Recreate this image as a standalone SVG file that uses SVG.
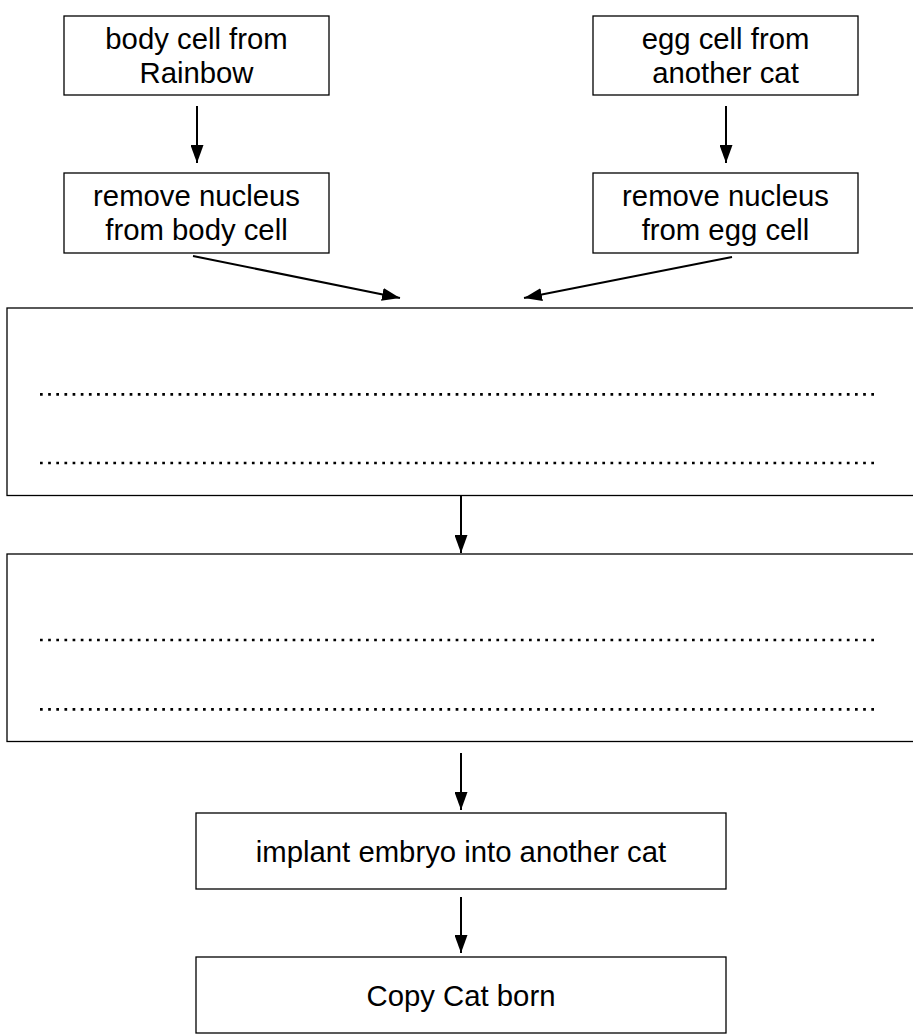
<svg xmlns="http://www.w3.org/2000/svg" width="913" height="1034" viewBox="0 0 913 1034">
<style>
.box{fill:#fff;stroke:#000;stroke-width:1.3}
.t{font-family:"Liberation Sans",Arial,sans-serif;font-size:29.3px;fill:#000;text-anchor:middle}
.dots{stroke:#000;stroke-width:2.7;stroke-dasharray:2.7 5.45;fill:none}
.c{stroke:#000;stroke-width:2;fill:none;marker-end:url(#ah)}
</style>
<defs>
<marker id="ah" markerUnits="userSpaceOnUse" markerWidth="18" markerHeight="13" refX="18" refY="6.5" orient="auto">
<path d="M0,0 L18,6.5 L0,13 z" fill="#000"/>
</marker>
</defs>
<rect width="913" height="1034" fill="#fff"/>
<g id="body-cell">
<rect class="box" x="64" y="16" width="265" height="79"/>
<text class="t" x="196.5" y="48.5">body cell from</text>
<text class="t" x="196.5" y="82.5">Rainbow</text>
</g>
<g id="egg-cell">
<rect class="box" x="593" y="16" width="265" height="79"/>
<text class="t" x="725.5" y="48.5">egg cell from</text>
<text class="t" x="725.5" y="82.5">another cat</text>
</g>
<g id="remove-body">
<rect class="box" x="64" y="173" width="265" height="80"/>
<text class="t" x="196.5" y="206">remove nucleus</text>
<text class="t" x="196.5" y="240">from body cell</text>
</g>
<g id="remove-egg">
<rect class="box" x="593" y="173" width="265" height="80"/>
<text class="t" x="725.5" y="206">remove nucleus</text>
<text class="t" x="725.5" y="240">from egg cell</text>
</g>
<g id="blank-1">
<rect class="box" x="7" y="308" width="930" height="187.5"/>
<line class="dots" x1="40" y1="394.3" x2="875" y2="394.3"/>
<line class="dots" x1="40" y1="463" x2="875" y2="463"/>
</g>
<g id="blank-2">
<rect class="box" x="7" y="554" width="930" height="187.5"/>
<line class="dots" x1="40" y1="640" x2="875" y2="640"/>
<line class="dots" x1="40" y1="709.3" x2="875" y2="709.3"/>
</g>
<g id="implant">
<rect class="box" x="196" y="813" width="530" height="76"/>
<text class="t" x="461" y="861.5">implant embryo into another cat</text>
</g>
<g id="born">
<rect class="box" x="196" y="957" width="530" height="76"/>
<text class="t" x="461" y="1005.5">Copy Cat born</text>
</g>
<g id="connectors">
<line class="c" x1="197" y1="106" x2="197" y2="163"/>
<line class="c" x1="726" y1="106" x2="726" y2="163"/>
<line class="c" x1="193" y1="256" x2="400" y2="298"/>
<line class="c" x1="732" y1="257" x2="524" y2="298"/>
<line class="c" x1="461" y1="495.5" x2="461" y2="553"/>
<line class="c" x1="461" y1="753" x2="461" y2="810"/>
<line class="c" x1="461" y1="897" x2="461" y2="953"/>
</g>
</svg>
